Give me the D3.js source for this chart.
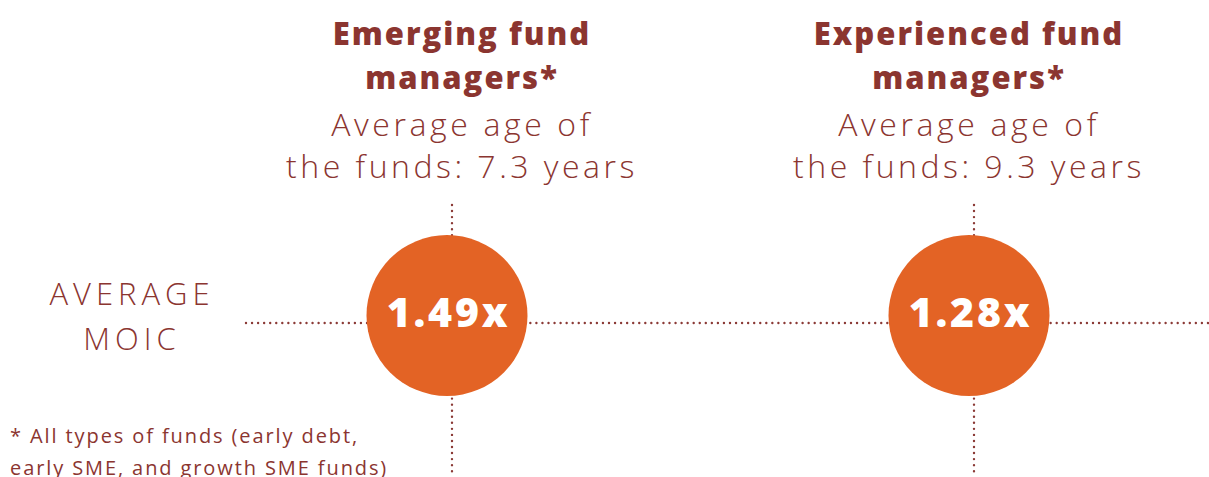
<!DOCTYPE html>
<html>
<head>
<meta charset="utf-8">
<script src="https://cdn.jsdelivr.net/npm/d3@7"></script>
<style>
  body { margin: 0; background: #fff; }
  svg { display: block; font-family: "Open Sans", sans-serif; }
</style>
</head>
<body>
<div id="chart"></div>
<script>
var width = 1209,
    height = 477,
    textColor = "#8b3530",
    dotColor = "#8b3a36",
    bubbleColor = "#e36325";

// data
var groupTitles = [["Emerging fund", "managers*"], ["Experienced fund", "managers*"]];
var avgAge = [7.3, 9.3];
var moic = [1.49, 1.28];
var rowLabel = ["AVERAGE", "MOIC"];
var footnote = ["* All types of funds (early debt,", "early SME, and growth SME funds)"];

var groups = groupTitles.map((t, i) => ({title: t, age: avgAge[i], moic: moic[i], key: i}));

let x = d3.scalePoint()
    .domain(groups.map(d => d.key))
    .range([452, 974]);

let rowY = 323;

let svg = d3.select("#chart")
    .append("svg")
    .attr("width", width)
    .attr("height", height);

let dotted = (sel) => sel
    .attr("stroke", dotColor)
    .attr("stroke-width", 2.4)
    .attr("stroke-linecap", "round")
    .attr("stroke-dasharray", "0 6.05");

// horizontal guide
svg.append("line")
    .attr("x1", 246).attr("x2", width)
    .attr("y1", rowY).attr("y2", rowY)
    .call(dotted);

// vertical guides
svg.selectAll(".vline")
    .data(groups)
    .join("line")
    .attr("class", "vline")
    .attr("x1", d => x(d.key)).attr("x2", d => x(d.key))
    .attr("y1", 205).attr("y2", height)
    .call(dotted);

// bubbles
let bubble = svg.selectAll(".bubble")
    .data(groups)
    .join("g")
    .attr("class", "bubble")
    .attr("transform", d => `translate(${x(d.key) - 5}, 315.5)`);

bubble.append("circle")
    .attr("r", 80.5)
    .attr("fill", bubbleColor);

bubble.append("text")
    .attr("x", 1.5)
    .attr("y", 11)
    .attr("text-anchor", "middle")
    .attr("fill", "#fff")
    .style("font-size", "41px")
    .style("font-weight", 800)
    .style("letter-spacing", "2.8px")
    .text(d => d.moic.toFixed(2) + "x");

// headers
let header = svg.selectAll(".header")
    .data(groups)
    .join("g")
    .attr("class", "header")
    .attr("transform", d => `translate(${x(d.key) + (d.key == 0 ? 10 : -5)}, 0)`)
    .attr("text-anchor", "middle")
    .attr("fill", textColor);

header.selectAll(".title")
    .data(d => d.title)
    .join("text")
    .attr("class", "title")
    .attr("y", (d, i) => 45 + i * 44)
    .style("font-size", "31px")
    .style("font-weight", 800)
    .style("letter-spacing", "2px")
    .text(d => d);

header.append("text")
    .attr("y", 136)
    .style("font-size", "32px")
    .style("font-weight", 300)
    .style("letter-spacing", "3.6px")
    .text("Average age of");

header.append("text")
    .attr("y", 178)
    .style("font-size", "32px")
    .style("font-weight", 300)
    .style("letter-spacing", "3.5px")
    .text(d => `the funds: ${d.age} years`);

// row label
svg.selectAll(".rowlabel")
    .data(rowLabel)
    .join("text")
    .attr("class", "rowlabel")
    .attr("x", 132)
    .attr("y", (d, i) => 305 + i * 45)
    .attr("text-anchor", "middle")
    .attr("fill", textColor)
    .style("font-size", "31px")
    .style("font-weight", 300)
    .style("letter-spacing", "5px")
    .text(d => d);

// footnote (second line runs off the bottom edge, as in the source)
svg.selectAll(".foot")
    .data(footnote)
    .join("text")
    .attr("class", "foot")
    .attr("x", 10)
    .attr("y", (d, i) => 443 + i * 32)
    .attr("fill", textColor)
    .style("font-size", "20px")
    .style("font-weight", 400)
    .style("letter-spacing", "1.9px")
    .text(d => d);
</script>
</body>
</html>
